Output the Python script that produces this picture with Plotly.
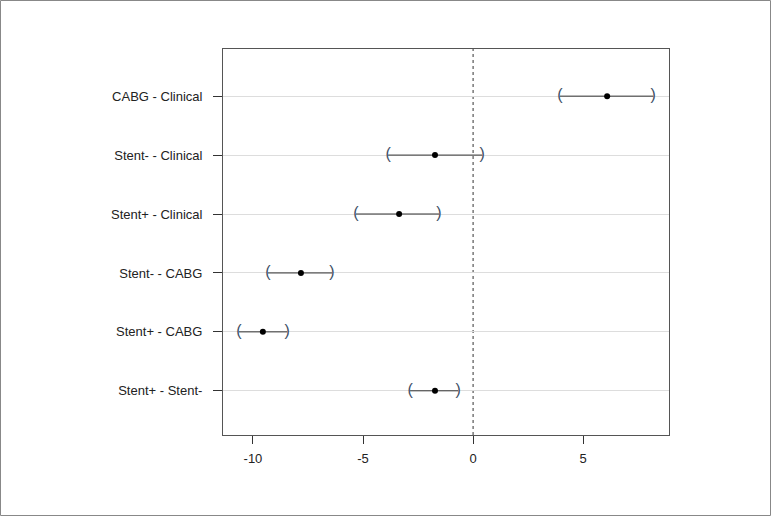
import plotly.graph_objects as go

labels = ["CABG - Clinical", "Stent- - Clinical", "Stent+ - Clinical",
          "Stent- - CABG", "Stent+ - CABG", "Stent+ - Stent-"]
estimate = [6.09, -1.73, -3.36, -7.82, -9.55, -1.73]
lower = [3.95, -3.86, -5.32, -9.32, -10.64, -2.86]
upper = [8.18, 0.41, -1.55, -6.41, -8.45, -0.68]
x_ticks = [-10, -5, 0, 5]

n = len(labels)
ypos = [n - i for i in range(n)]

fig = go.Figure()
for i in range(n):
    fig.add_trace(go.Scatter(x=[lower[i], upper[i]], y=[ypos[i], ypos[i]], mode="lines",
                             line=dict(color="#333333", width=1), showlegend=False, hoverinfo="skip"))
fig.add_trace(go.Scatter(x=lower, y=ypos, mode="text", text=["("] * n,
                         textfont=dict(family="Liberation Sans, Arial", size=16, color="#3d4f66"),
                         textposition="middle center", showlegend=False))
fig.add_trace(go.Scatter(x=upper, y=ypos, mode="text", text=[")"] * n,
                         textfont=dict(family="Liberation Sans, Arial", size=16, color="#3d4f66"),
                         textposition="middle center", showlegend=False))
fig.add_trace(go.Scatter(x=estimate, y=ypos, mode="markers",
                         marker=dict(color="black", size=6), showlegend=False))

fig.add_vline(x=0, line=dict(color="#333333", width=1, dash="3px,3px"), layer="below")

L, R, T, B = 223, 102, 49, 81
W, H = 771, 516
pw, ph = W - L - R, H - T - B
fig.add_shape(type="rect", xref="paper", yref="paper",
              x0=-(L - 0.5) / pw, x1=(W - L - 0.5) / pw,
              y0=-(B - 0.5) / ph, y1=(H - B - 0.5) / ph,
              line=dict(color="#888888", width=1))

fig.update_layout(
    width=W, height=H,
    margin=dict(l=L, r=R, t=T, b=B),
    plot_bgcolor="white", paper_bgcolor="white",
    font=dict(family="Liberation Sans, Arial", size=13, color="#222222"),
    xaxis=dict(range=[-11.36, 8.9], tickvals=x_ticks, ticktext=[str(v) for v in x_ticks],
               showgrid=False, zeroline=False, showline=True, mirror=True,
               linecolor="#555555", linewidth=1, ticks="outside", ticklen=8,
               tickcolor="#333333", tickfont=dict(size=13), ticklabelstandoff=3),
    yaxis=dict(range=[0.25, 6.8], tickvals=ypos, ticktext=labels,
               showgrid=True, gridcolor="#dddddd", gridwidth=1, zeroline=False,
               showline=True, mirror=True, linecolor="#555555", linewidth=1,
               ticks="outside", ticklen=9, tickcolor="#333333", tickfont=dict(size=13),
               ticklabelstandoff=8),
)

fig.write_html("out.html", config={"displayModeBar": False},
               post_script="document.body.style.margin='0';")
